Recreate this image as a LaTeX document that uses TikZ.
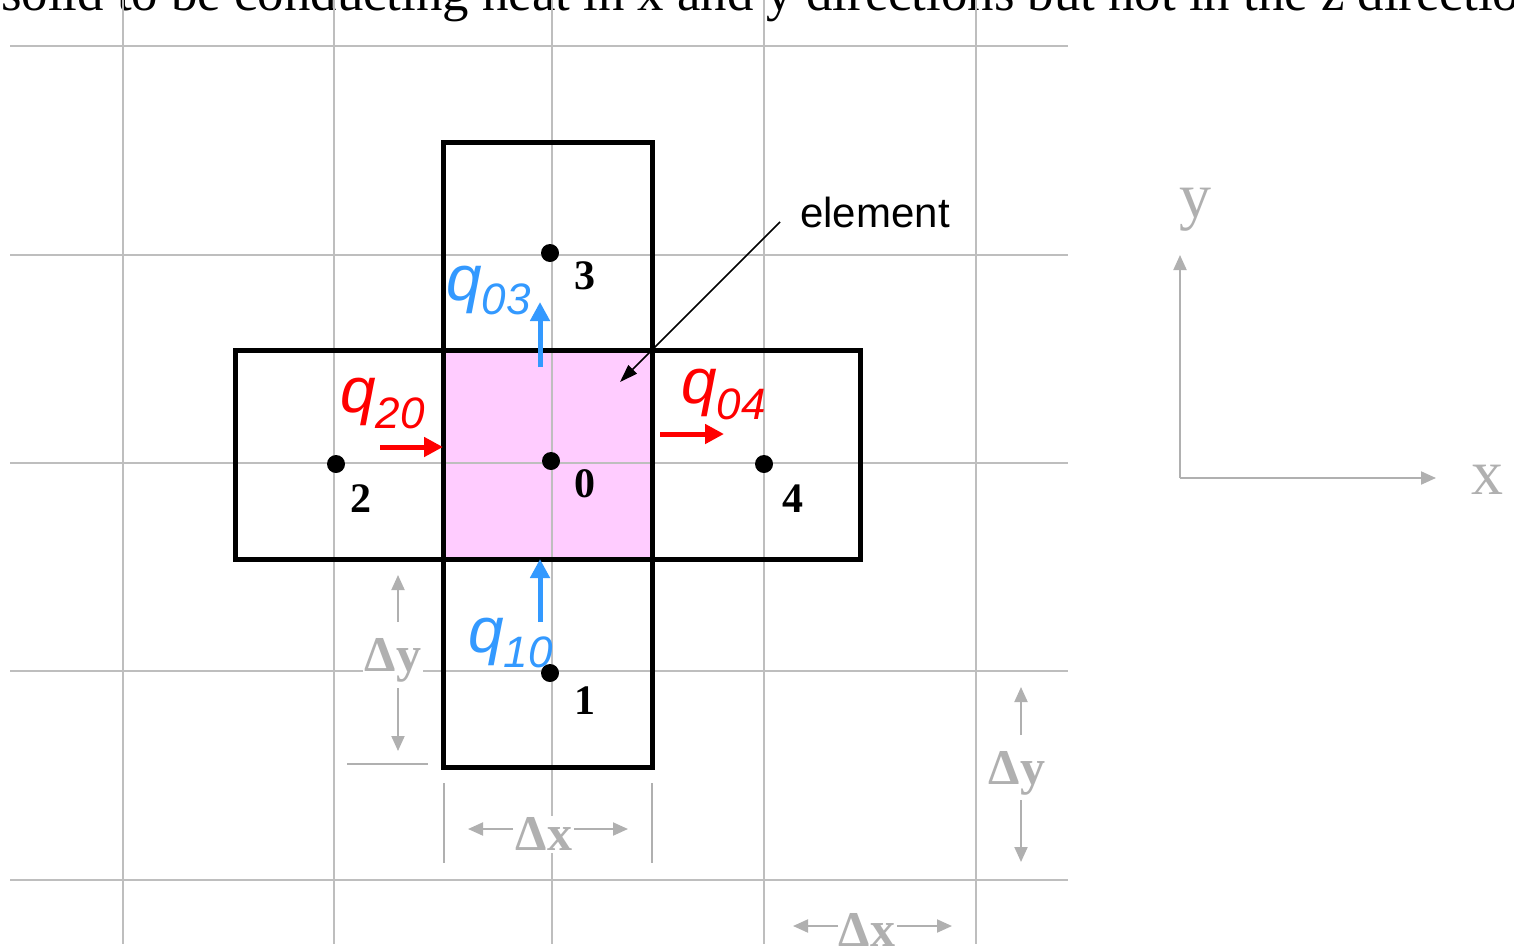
\documentclass[tikz,border=0pt]{standalone}
\usepackage{fontspec}
\setmainfont{Liberation Serif}
\newfontfamily\hel{Liberation Sans}
\usetikzlibrary{arrows.meta}
\definecolor{gridc}{RGB}{190,190,190}
\definecolor{dimc}{RGB}{176,176,176}
\definecolor{qblue}{RGB}{51,153,255}
\definecolor{qred}{RGB}{255,0,0}
\definecolor{pinkc}{RGB}{255,204,255}
\begin{document}
\begin{tikzpicture}[x=1pt,y=-1pt,
  gridline/.style={draw=gridc,line width=2pt},
  cell/.style={draw=black,line width=5pt},
  dot/.style={circle,fill=black,inner sep=0pt,minimum size=18pt},
  numlab/.style={font=\fontsize{42}{42}\selectfont\bfseries,inner sep=0pt},
  qarrow/.style={line width=5pt,-{Triangle[length=19pt,width=19pt]}},
  dimarrow/.style={draw=dimc,line width=2pt,-{Triangle[length=15pt,width=13pt]}},
  dimlab/.style={text=dimc,fill=white,inner sep=2pt,font=\fontsize{50}{50}\selectfont\bfseries},
  axlab/.style={text=dimc,inner sep=0pt,font=\fontsize{64}{64}\selectfont},
  qlab/.style={inner sep=0pt,anchor=base west}
]
\useasboundingbox (0,0) rectangle (1514,948);
\clip (0,0) rectangle (1514,948);

% top cut-off text
\node[anchor=base west,inner sep=0pt,font=\fontsize{52.8}{52.8}\selectfont] (toptext) at (1,10)
  {solid to be conducting heat in x and y directions but not in the z directions};

% pink element
\fill[pinkc] (443,350) rectangle (652,559);

% grid
\foreach \gx in {123,334,552,764,976} \draw[gridline] (\gx,0) -- (\gx,944);
\foreach \gy in {46,255,463,671,880} \draw[gridline] (10,\gy) -- (1068,\gy);

% cells
\draw[cell] (443,142) rectangle (652,350);
\draw[cell] (235,350) rectangle (443,559);
\draw[cell] (443,350) rectangle (652,559);
\draw[cell] (652,350) rectangle (860,559);
\draw[cell] (443,559) rectangle (652,767);

% nodes
\node[dot] (n0) at (551,461) {};
\node[dot] (n1) at (550,673) {};
\node[dot] (n2) at (336,464) {};
\node[dot] (n3) at (550,253) {};
\node[dot] (n4) at (764,464) {};
\node[numlab] (l0) at (585,484) {0};
\node[numlab] (l1) at (585,701) {1};
\node[numlab] (l2) at (361,499) {2};
\node[numlab] (l3) at (585,276) {3};
\node[numlab] (l4) at (793,499) {4};

% heat flow labels
\node[qlab,text=qred] (q20) at (340,412) {\hel\itshape\fontsize{64}{64}\selectfont q\raisebox{-16pt}{\fontsize{44}{44}\selectfont 20}};
\node[qlab,text=qred] (q04) at (681,403) {\hel\itshape\fontsize{64}{64}\selectfont q\raisebox{-16pt}{\fontsize{44}{44}\selectfont 04}};
\node[qlab,text=qblue] (q03) at (446,300) {\hel\itshape\fontsize{64}{64}\selectfont q\raisebox{-14pt}{\fontsize{44}{44}\selectfont 03}};
\node[qlab,text=qblue] (q10) at (468,652) {\hel\itshape\fontsize{64}{64}\selectfont q\raisebox{-15pt}{\fontsize{44}{44}\selectfont 10}};

% heat flow arrows
\coordinate (a20s) at (380,447); \coordinate (a20e) at (443,447);
\coordinate (a04s) at (660,434); \coordinate (a04e) at (724,434);
\coordinate (a03s) at (540,367); \coordinate (a03e) at (540,302);
\coordinate (a10s) at (540,622); \coordinate (a10e) at (540,559);
\draw[qarrow,qred] (a20s) -- (a20e);
\draw[qarrow,qred] (a04s) -- (a04e);
\draw[qarrow,qblue] (a03s) -- (a03e);
\draw[qarrow,qblue] (a10s) -- (a10e);

% element label
\node[inner sep=0pt,font=\hel\fontsize{42}{42}\selectfont] (elem) at (875,212) {element};
\coordinate (elS) at (780,222);
\coordinate (elE) at (620,382);
\draw[line width=1.5pt,-{Triangle[length=18pt,width=12pt]}] (elS) -- (elE);

% left dy
\node[dimlab] (dyL) at (393,660) {Δy};
\coordinate (dyLu) at (398,622); \coordinate (dyLut) at (398,575);
\coordinate (dyLd) at (398,688); \coordinate (dyLdt) at (398,751);
\draw[dimarrow] (dyLu) -- (dyLut);
\draw[dimarrow] (dyLd) -- (dyLdt);
\draw[draw=dimc,line width=2pt] (347,764) -- (428,764);

% lower dx
\draw[draw=dimc,line width=2pt] (444,783) -- (444,863);
\draw[draw=dimc,line width=2pt] (652,783) -- (652,863);
\node[dimlab] (dxB) at (544,834) {Δx};
\coordinate (dxBl) at (513,829); \coordinate (dxBlt) at (468,829);
\coordinate (dxBr) at (574,829); \coordinate (dxBrt) at (628,829);
\draw[dimarrow] (dxBl) -- (dxBlt);
\draw[dimarrow] (dxBr) -- (dxBrt);

% right dy
\node[dimlab] (dyR) at (1017,773) {Δy};
\coordinate (dyRu) at (1021,735); \coordinate (dyRut) at (1021,687);
\coordinate (dyRd) at (1021,800); \coordinate (dyRdt) at (1021,862);
\draw[dimarrow] (dyRu) -- (dyRut);
\draw[dimarrow] (dyRd) -- (dyRdt);

% bottom dx
\node[dimlab] (dxR) at (867,930) {Δx};
\coordinate (dxRl) at (838,926); \coordinate (dxRlt) at (793,926);
\coordinate (dxRr) at (897,926); \coordinate (dxRrt) at (952,926);
\draw[dimarrow] (dxRl) -- (dxRlt);
\draw[dimarrow] (dxRr) -- (dxRrt);

% axes
\coordinate (orig) at (1180,478);
\coordinate (ytip) at (1180,255);
\coordinate (xtip) at (1436,478);
\draw[dimarrow] (orig) -- (ytip);
\draw[dimarrow] (orig) -- (xtip);
\node[axlab] (ylab) at (1195,210) {y};
\node[axlab] (xlab) at (1487,480) {x};
\end{tikzpicture}
\end{document}
